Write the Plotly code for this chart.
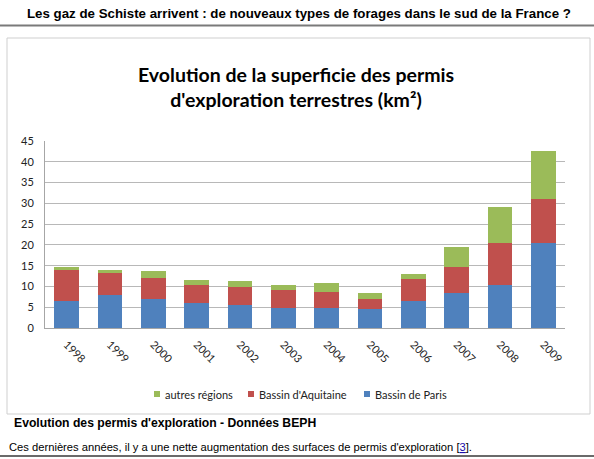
import plotly.graph_objects as go

years = ["1998", "1999", "2000", "2001", "2002", "2003", "2004", "2005", "2006", "2007", "2008", "2009"]
bassin_paris = [6.4, 8.0, 7.05, 6.1, 5.5, 4.9, 4.9, 4.55, 6.55, 8.4, 10.4, 20.4]
bassin_aquitaine = [7.45, 5.2, 4.95, 4.15, 4.35, 4.2, 3.8, 2.55, 5.15, 6.2, 10.1, 10.7]
autres_regions = [0.8, 0.7, 1.6, 1.3, 1.55, 1.15, 2.2, 1.3, 1.2, 5.0, 8.5, 11.6]
y_ticks = [0, 5, 10, 15, 20, 25, 30, 35, 40, 45]
legend_names = ["autres régions", "Bassin d'Aquitaine", "Bassin de Paris"]
legend_colors = ["#9bbb59", "#c0504d", "#4f81bd"]

W, H = 594, 459
L, R, T, B = 45, 565, 141, 328


def px(x):
    return (x - L) / (R - L)


def py(y):
    return (B - y) / (B - T)


CHART_FONT = "Lato, 'Open Sans', sans-serif"
PAGE_FONT = "'Liberation Sans', Arial, sans-serif"

fig = go.Figure()
fig.add_trace(go.Bar(x=years, y=bassin_paris, name="Bassin de Paris",
                     marker=dict(color=legend_colors[2], line=dict(width=0))))
fig.add_trace(go.Bar(x=years, y=bassin_aquitaine, name="Bassin d'Aquitaine",
                     marker=dict(color=legend_colors[1], line=dict(width=0))))
fig.add_trace(go.Bar(x=years, y=autres_regions, name="autres régions",
                     marker=dict(color=legend_colors[0], line=dict(width=0))))

shapes = [
    # header rule
    dict(type="line", xref="paper", yref="paper", x0=px(0), x1=px(W), y0=py(25.5), y1=py(25.5),
         line=dict(color="#7a7a7a", width=2)),
    # chart frame
    dict(type="rect", xref="paper", yref="paper", x0=px(7), x1=px(590), y0=py(414), y1=py(38),
         line=dict(color="#cfcfcf", width=1), layer="below"),
    # bottom rule
    dict(type="line", xref="paper", yref="paper", x0=px(0), x1=px(W), y0=py(456), y1=py(456),
         line=dict(color="#6a6a6a", width=2)),
]

annotations = [
    dict(text="<b>Les gaz de Schiste arrivent : de nouveaux types de forages dans le sud de la France ?</b>",
         xref="paper", yref="paper", x=px(299), y=py(14), xanchor="center", yanchor="middle",
         showarrow=False, font=dict(family=PAGE_FONT, size=13.3, color="#000")),
    dict(text="<b>Evolution de la superficie des permis<br>d'exploration terrestres (km²)</b>",
         xref="paper", yref="paper", x=px(296), y=py(87), xanchor="center", yanchor="middle",
         showarrow=False, font=dict(family=CHART_FONT, size=19.5, color="#000")),
    dict(text="<b>Evolution des permis d'exploration - Données BEPH</b>",
         xref="paper", yref="paper", x=px(12), y=py(423), xanchor="left", yanchor="middle",
         showarrow=False, font=dict(family=PAGE_FONT, size=12.2, color="#000")),
    dict(text="Ces dernières années, il y a une nette augmentation des surfaces de permis d'exploration "
              "[<span style='color:#1a0dab;text-decoration:underline'>3</span>].",
         xref="paper", yref="paper", x=px(7), y=py(447), xanchor="left", yanchor="middle",
         showarrow=False, font=dict(family=PAGE_FONT, size=11.2, color="#000")),
]

# manual legend (small squares + labels), positioned like the reference
legend_sq_x = [154, 248, 364]
leg_y = 394
for name, color, sx in zip(legend_names, legend_colors, legend_sq_x):
    shapes.append(dict(type="rect", xref="paper", yref="paper",
                       x0=px(sx), x1=px(sx + 6), y0=py(leg_y + 3), y1=py(leg_y - 3),
                       fillcolor=color, line=dict(width=0)))
    annotations.append(dict(text=name, xref="paper", yref="paper", x=px(sx + 9), y=py(leg_y),
                            xanchor="left", yanchor="middle", showarrow=False,
                            font=dict(family=CHART_FONT, size=11, color="#222")))

fig.update_layout(
    width=W, height=H,
    margin=dict(l=L, r=W - R, t=T, b=H - B, pad=0),
    barmode="stack",
    bargap=0.43,
    paper_bgcolor="white",
    plot_bgcolor="white",
    font=dict(family=CHART_FONT, size=11, color="#222"),
    showlegend=False,
    xaxis=dict(type="category", tickangle=45, showgrid=False, zeroline=False,
               showline=True, linecolor="#a6a6a6", linewidth=1, ticks="",
               ticklabelstandoff=5,
               tickfont=dict(family=CHART_FONT, size=11, color="#222")),
    yaxis=dict(range=[0, 45], tickvals=y_ticks, showgrid=True, gridcolor="#b8b8b8", gridwidth=1,
               zeroline=False, showline=True, linecolor="#a6a6a6", linewidth=1, ticks="",
               ticklabelstandoff=8,
               tickfont=dict(family=CHART_FONT, size=11, color="#222")),
    shapes=shapes,
    annotations=annotations,
)

fig.write_html("out.html", config={"displayModeBar": False},
               post_script="document.body.style.margin='0';document.body.style.padding='0';")
